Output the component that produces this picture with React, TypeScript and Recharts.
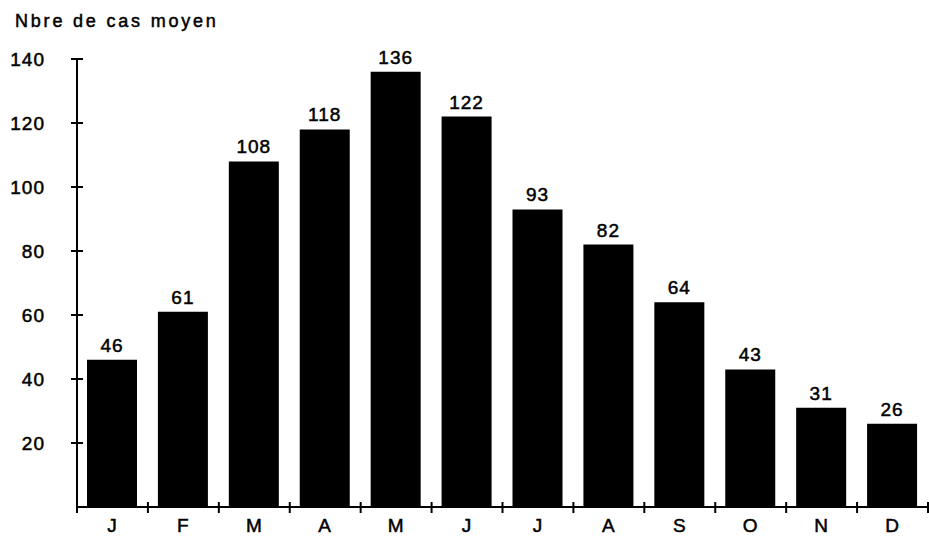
import { BarChart, Bar, XAxis, YAxis, LabelList } from 'recharts';

// Nombre moyen de cas par mois
const months = ['J', 'F', 'M', 'A', 'M', 'J', 'J', 'A', 'S', 'O', 'N', 'D'];
const cases = [46, 61, 108, 118, 136, 122, 93, 82, 64, 43, 31, 26];
const yTicks = [20, 40, 60, 80, 100, 120, 140];

const W = 929;
const H = 537;
const X_H = 30;
const M = { top: 59, right: 1, bottom: 0, left: 0 };
const Y_W = 77;
const FONT = '"Liberation Sans", Arial, Helvetica, sans-serif';

const band = (W - M.left - M.right - Y_W) / months.length;

function YTick({ x, y, payload }: any) {
  return (
    <g>
      <line x1={x - 6} x2={x + 6} y1={y} y2={y} stroke="#000" strokeWidth={2} />
      <text x={x - 32} y={y} dy="0.36em" textAnchor="end" fontSize={19} letterSpacing={1}
        fill="#000" stroke="#000" strokeWidth={0.5} fontFamily={FONT}>
        {payload.value}
      </text>
    </g>
  );
}

function XTick({ x, y, payload, index }: any) {
  const last = index === months.length - 1;
  return (
    <g>
      <line x1={x - band / 2} x2={x - band / 2} y1={y - 5} y2={y + 6} stroke="#000" strokeWidth={2} />
      {last && <line x1={x + band / 2} x2={x + band / 2} y1={y - 5} y2={y + 6} stroke="#000" strokeWidth={2} />}
      <text x={x} y={y + 25} textAnchor="middle" fontSize={19} letterSpacing={1}
        fill="#000" stroke="#000" strokeWidth={0.5} fontFamily={FONT}>
        {payload.value}
      </text>
    </g>
  );
}

export default function App() {
  const data = months.map((m, i) => ({ month: m, cases: cases[i] }));
  return (
    <div style={{ position: 'absolute', left: 0, top: 0, width: W, height: H, background: '#fff' }}>
      <div style={{ position: 'absolute', left: 15, top: 11, fontFamily: FONT, fontSize: 18, letterSpacing: 2.8,
        color: '#000', WebkitTextStroke: '0.5px #000' }}>
        Nbre de cas moyen
      </div>
      <BarChart width={W} height={H} data={data} margin={M}>
        <XAxis
          dataKey="month"
          height={X_H}
          axisLine={{ stroke: '#000', strokeWidth: 2 }}
          tickLine={false}
          tickSize={0}
          tickMargin={0}
          interval={0}
          tick={<XTick />}
        />
        <YAxis
          width={Y_W}
          domain={[0, 140]}
          ticks={yTicks}
          axisLine={{ stroke: '#000', strokeWidth: 2 }}
          tickLine={false}
          tickSize={0}
          tickMargin={0}
          tick={<YTick />}
        />
        <Bar dataKey="cases" fill="#000" barSize={50} isAnimationActive={false}>
          <LabelList dataKey="cases" position="top" offset={8} fill="#000" stroke="#000" strokeWidth={0.5}
            fontSize={19} letterSpacing={1} fontFamily={FONT} />
        </Bar>
      </BarChart>
    </div>
  );
}
